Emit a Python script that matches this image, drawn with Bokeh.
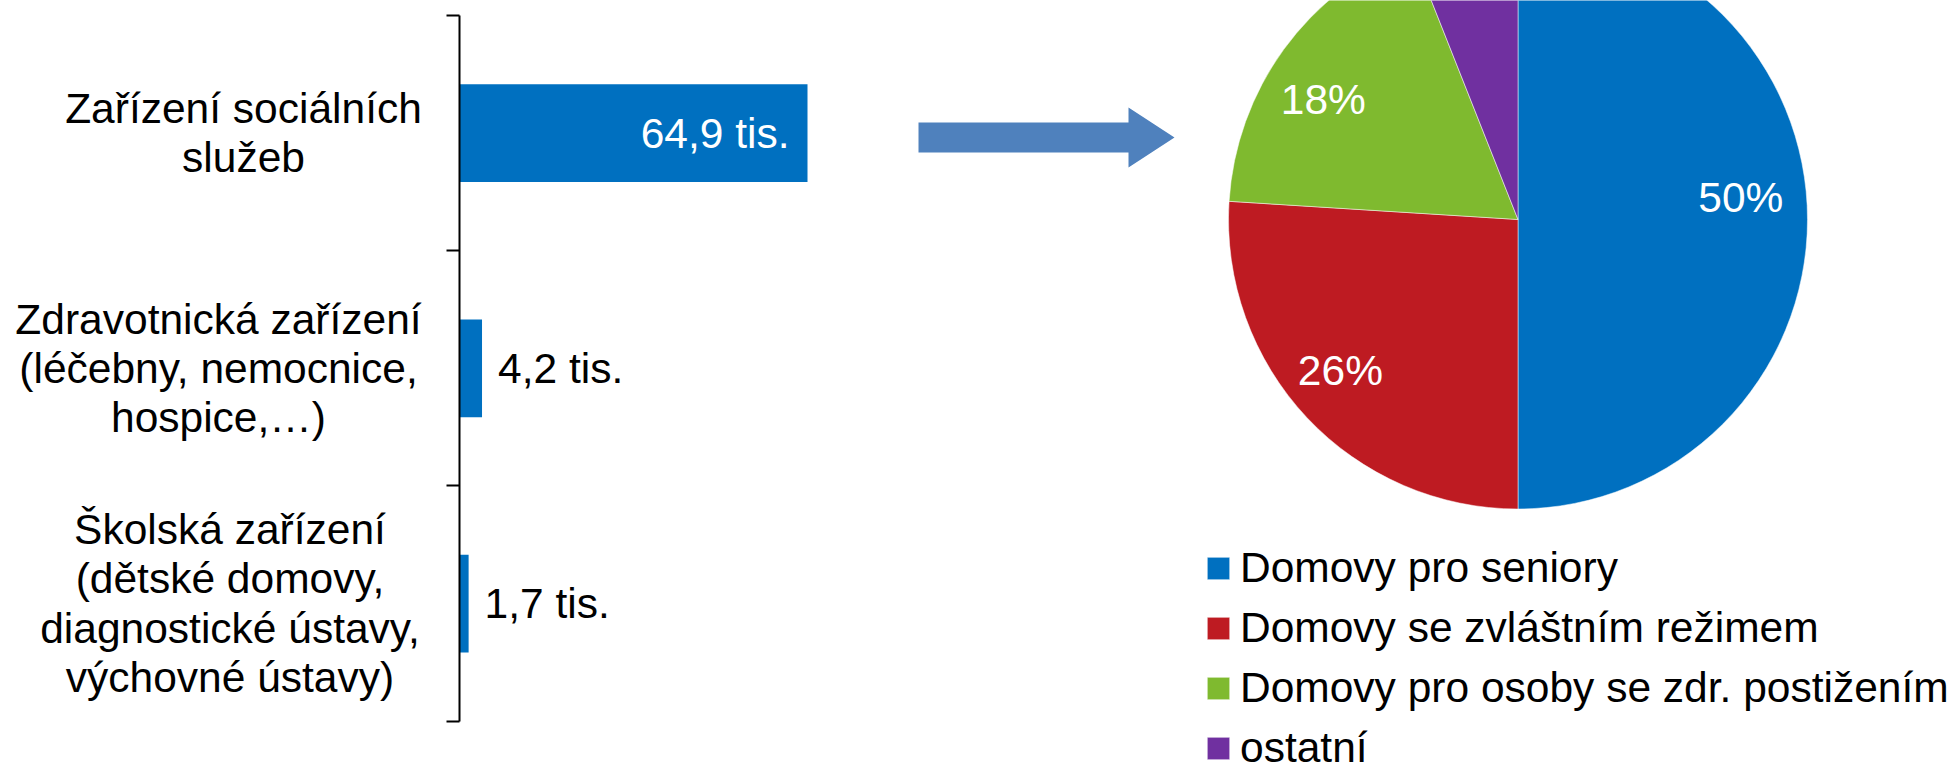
import math
from bokeh.plotting import figure
from bokeh.models import ColumnDataSource, Range1d, FixedTicker, Legend, LegendItem
from bokeh.layouts import row
from bokeh.embed import file_html
from bokeh.resources import INLINE
from bokeh.core.properties import value

# ---------------- data ----------------
categories = [
    "Zařízení sociálních\nslužeb",
    "Zdravotnická zařízení\n(léčebny, nemocnice,\nhospice,…)",
    "Školská zařízení\n(dětské domovy,\ndiagnostické ústavy,\nvýchovné ústavy)",
]
counts = [64.9, 4.2, 1.7]            # thousands
count_labels = ["64,9 tis.", "4,2 tis.", "1,7 tis."]

pie_names = ["Domovy pro seniory", "Domovy se zvláštním režimem",
             "Domovy pro osoby se zdr. postižením", "ostatní"]
pie_shares = [50, 26, 18, 6]
pie_labels = ["50%", "26%", "18%", ""]
pie_colors = ["#0070C0", "#BE1B22", "#7FBA2F", "#7030A0"]

# ---------------- style / layout ----------------
FONT_NAME = "Liberation Sans"
FONT = value(FONT_NAME)
FS = "42.5px"
H = 763
W1 = 913
W2 = 1042

# label block widths (for centring lines of each category label)
label_block_w = [356, 406, 383]
label_gap = 38
# small nudges of pie labels (px, y up) to mimic the original placement
pie_label_nudge = [(-3, 22), (-13, 4), (-12, -13), (0, 0)]

# ---------------- bar chart ----------------
axis_px = 459.0
bar_end_px = 807.0
top_px, bottom_px = 15.0, 720.7
k = (bar_end_px - axis_px) / max(counts)
unit_y = (bottom_px - top_px) / len(categories)

p1 = figure(width=W1, height=H, output_backend="svg", toolbar_location=None,
            x_range=Range1d(-axis_px / k, (W1 - axis_px) / k),
            y_range=Range1d(len(categories) + (H - bottom_px) / unit_y, -top_px / unit_y),
            min_border=0)
p1.outline_line_color = None
p1.xgrid.visible = False
p1.ygrid.visible = False
p1.xaxis.visible = False

ys = [i + 0.5 for i in range(len(categories))]
src = ColumnDataSource(dict(
    y=ys, v=counts, cat=categories, lab=count_labels,
    lab_dx=[-(label_gap + w / 2) for w in label_block_w],
    inside=[c > 0.3 * max(counts) for c in counts],
))
src.data["val_align"] = ["right" if ins else "left" for ins in src.data["inside"]]
src.data["val_color"] = ["white" if ins else "black" for ins in src.data["inside"]]
src.data["val_dx"] = [-18 if ins else 16 for ins in src.data["inside"]]

p1.hbar(y="y", left=0, right="v", height=0.415, source=src,
        fill_color="#0070C0", line_color=None)

p1.text(x=0, y="y", text="cat", x_offset="lab_dx", source=src,
        text_align="center", text_baseline="middle", text_font=FONT,
        text_font_size=FS, text_line_height=1.05, text_color="black")

p1.text(x="v", y="y", text="lab", x_offset="val_dx", source=src,
        text_align="val_align", text_baseline="middle", text_font=FONT,
        text_font_size=FS, text_color="val_color")

ax = p1.yaxis[0]
ax.fixed_location = 0
ax.ticker = FixedTicker(ticks=list(range(len(categories) + 1)))
ax.bounds = (0, len(categories))
ax.major_label_text_color = None
ax.major_tick_in = 0
ax.major_tick_out = 13
ax.minor_tick_line_color = None
ax.axis_line_color = "black"
ax.axis_line_width = 2
ax.major_tick_line_color = "black"
ax.major_tick_line_width = 2

# ---------------- pie chart ----------------
p2 = figure(width=W2, height=H, output_backend="svg", toolbar_location=None,
            x_range=Range1d(0, W2), y_range=Range1d(0, H), min_border=0)
p2.outline_line_color = None
p2.xgrid.visible = False
p2.ygrid.visible = False
p2.xaxis.visible = False
p2.yaxis.visible = False

cx, cy, R = 604.5, 544.0, 289.5
total = sum(pie_shares)
starts, ends, lx, ly = [], [], [], []
cum = 0.0
for s, (ndx, ndy) in zip(pie_shares, pie_label_nudge):
    a0 = math.pi / 2 - 2 * math.pi * cum / total
    a1 = math.pi / 2 - 2 * math.pi * (cum + s) / total
    mid = (a0 + a1) / 2
    starts.append(a0)
    ends.append(a1)
    lx.append(cx + 0.78 * R * math.cos(mid) + ndx)
    ly.append(cy + 0.78 * R * math.sin(mid) + ndy)
    cum += s

psrc = ColumnDataSource(dict(start=starts, end=ends, color=pie_colors,
                             name=pie_names, lab=pie_labels, lx=lx, ly=ly))
wr = p2.wedge(x=cx, y=cy, radius=R, start_angle="start", end_angle="end",
              direction="clock", fill_color="color", line_color="white",
              line_width=0.5, source=psrc)
p2.text(x="lx", y="ly", text="lab", source=psrc, text_align="center",
        text_baseline="middle", text_font=FONT, text_font_size=FS,
        text_color="white")

# block arrow
ax0, a_len, head_len, shaft_h, head_h, ay = 5.0, 256.0, 46.0, 30.0, 60.0, 626.0
hx = ax0 + a_len - head_len
p2.patch(x=[ax0, hx, hx, ax0 + a_len, hx, hx, ax0],
         y=[ay + shaft_h / 2, ay + shaft_h / 2, ay + head_h / 2, ay,
            ay - head_h / 2, ay - shaft_h / 2, ay - shaft_h / 2],
         fill_color="#4F81BD", line_color=None)

legend = Legend(
    items=[LegendItem(label=n, renderers=[wr], index=i) for i, n in enumerate(pie_names)],
    location=(291, -10), orientation="vertical", padding=0, margin=0,
    spacing=10, glyph_width=28, glyph_height=28, label_standoff=8,
    label_height=50, label_text_font=FONT_NAME, label_text_font_size=FS,
    label_text_color="black", border_line_color=None, background_fill_alpha=0,
)
p2.add_layout(legend)

layout = row(p1, p2)
open("out.html", "w").write(file_html(layout, INLINE))
